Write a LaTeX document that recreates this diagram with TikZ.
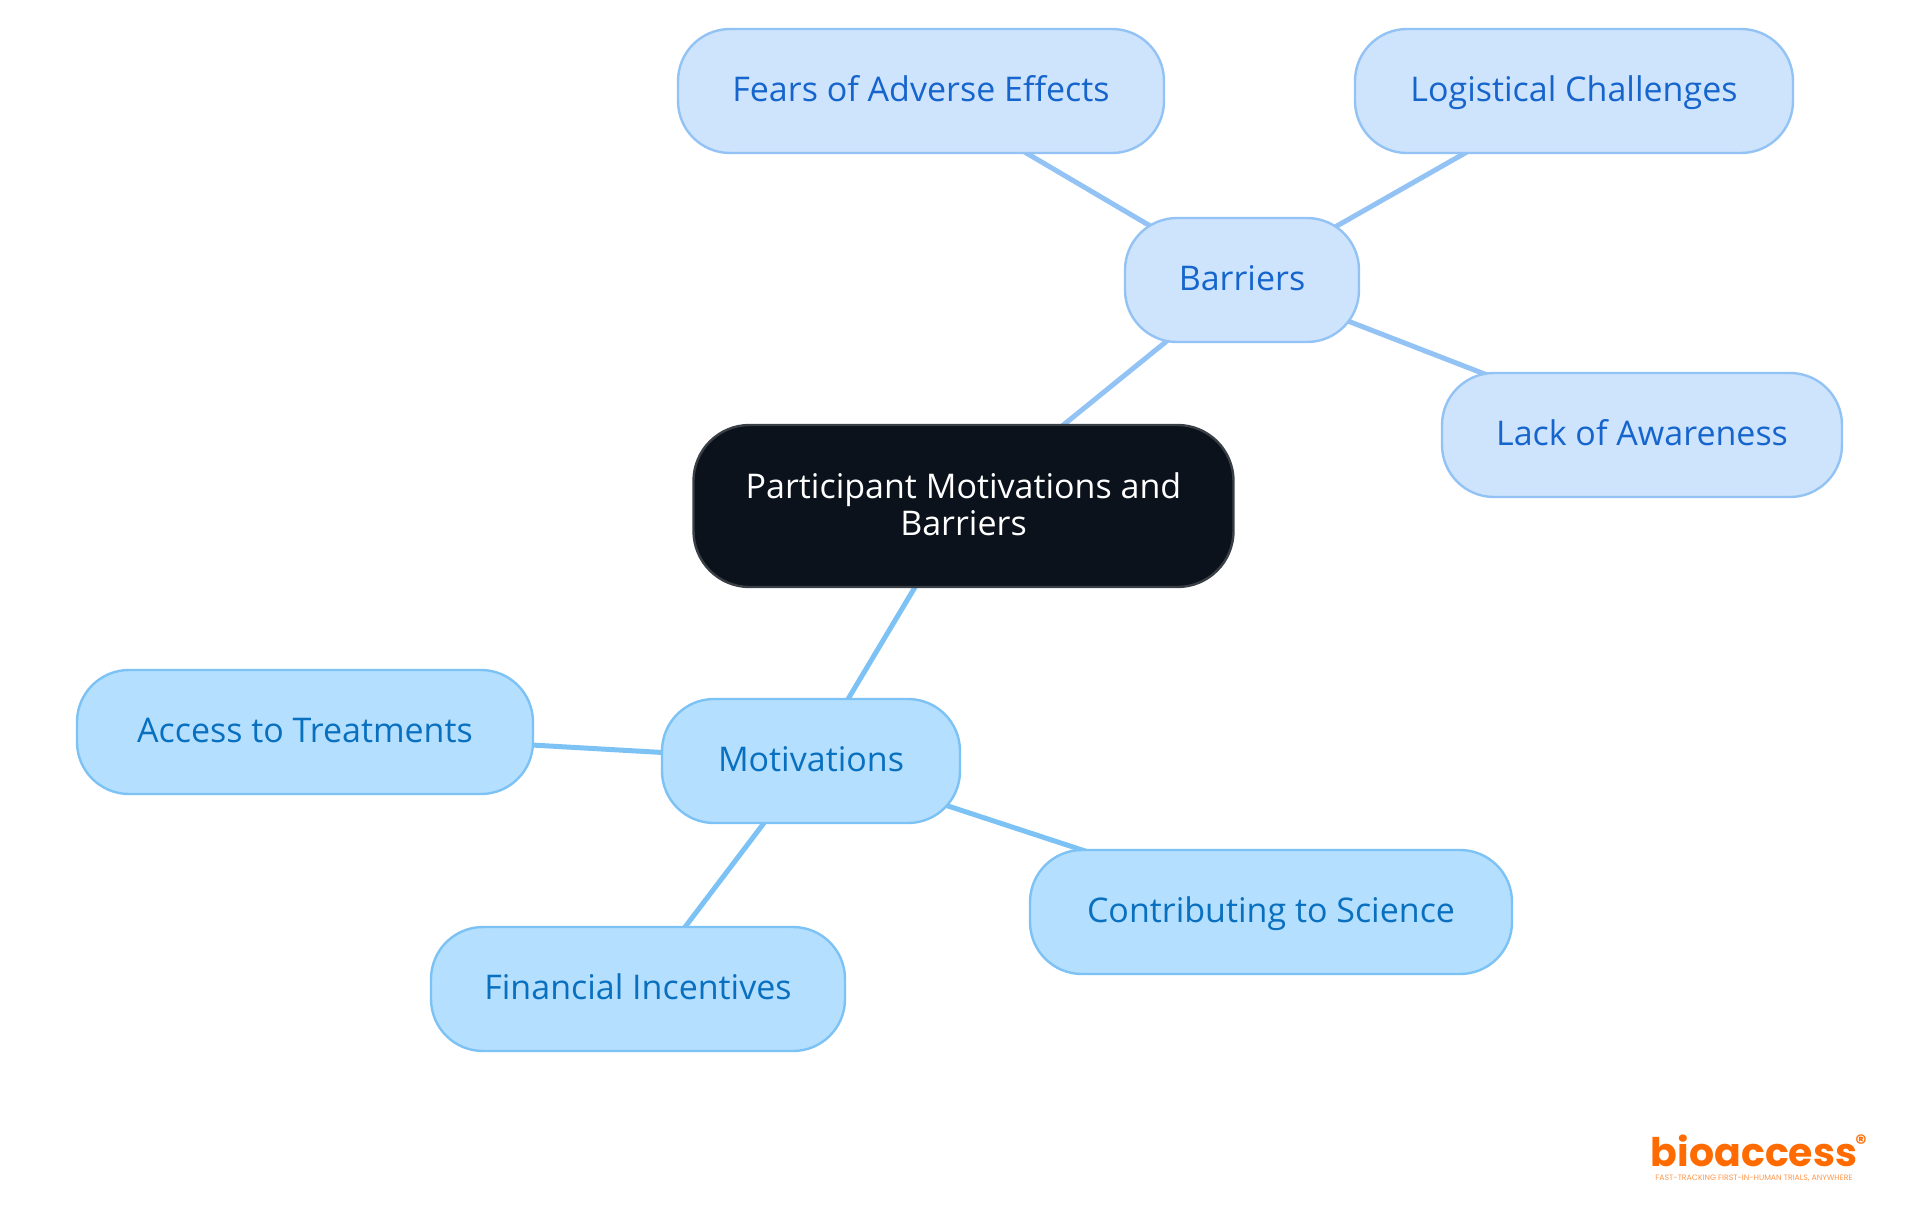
\documentclass[tikz,border=0pt]{standalone}
\usepackage{fontspec}
\setmainfont{Open Sans}
\newfontfamily\logofont{Poppins}
\usetikzlibrary{backgrounds}
\definecolor{rootfill}{HTML}{0C121B}
\definecolor{rootline}{HTML}{3A3F46}
\definecolor{barfill}{HTML}{CEE3FC}
\definecolor{barline}{HTML}{93C3F4}
\definecolor{bartext}{HTML}{1565CC}
\definecolor{motfill}{HTML}{B5DFFE}
\definecolor{motline}{HTML}{7DC2F5}
\definecolor{mottext}{HTML}{0970C0}
\definecolor{logoorange}{HTML}{FF6B00}
\tikzset{
    mapnode/.style={rounded corners=26pt, line width=1.2pt, align=center, font=\fontsize{17}{18.5}\selectfont, inner sep=0pt},
    leafnode/.style={mapnode, text height=16pt, text depth=5.5pt, minimum height=62pt},
    barnode/.style={leafnode, draw=barline, fill=barfill, text=bartext},
    motnode/.style={leafnode, draw=motline, fill=motfill, text=mottext},
    rootnode/.style={mapnode, rounded corners=28pt, text depth=1.6pt, draw=rootline, fill=rootfill, text=white},
    barlink/.style={draw=barline, line width=2.5pt},
    motlink/.style={draw=motline, line width=2.5pt}
}
\begin{document}
\begin{tikzpicture}[x=0.5pt, y=-0.5pt]
    \useasboundingbox (0, 0) rectangle (1920, 1215);

    \node[rootnode, minimum width=270pt, minimum height=81pt] (root) at (963.5, 506) {Participant Motivations and\\Barriers};

    \node[barnode, minimum width=117pt] (barriers) at (1242, 280) {Barriers};
    \node[barnode, minimum width=243pt] (fears) at (921, 91) {Fears of Adverse Effects};
    \node[barnode, minimum width=219pt] (logistical) at (1574, 91) {Logistical Challenges};
    \node[barnode, minimum width=200pt] (lack) at (1642, 435) {Lack of Awareness};

    \node[motnode, minimum width=149pt] (motivations) at (811, 761) {Motivations};
    \node[motnode, minimum width=228pt] (access) at (305, 732) {Access to Treatments};
    \node[motnode, minimum width=207pt] (financial) at (638, 989) {Financial Incentives};
    \node[motnode, minimum width=241pt] (science) at (1271, 912) {Contributing to Science};

    \node[font=\logofont\bfseries\fontsize{19.7}{20}\selectfont, text=logoorange, inner sep=0pt, text depth=0pt, anchor=base] (logo) at (1754, 1166) {bioaccess};
    \node[font=\logofont\fontsize{3.9}{4}\selectfont, text=logoorange!70, inner sep=0pt] (tagline) at (1754, 1178) {FAST-TRACKING FIRST-IN-HUMAN TRIALS, ANYWHERE};
    \node[font=\logofont\bfseries\fontsize{11}{11}\selectfont, text=logoorange, inner sep=0pt] (mark) at (1861, 1143) {®};

    \begin{scope}[on background layer]
        \draw[barlink] (root.center) -- (barriers.center);
        \draw[barlink] (barriers.center) -- (fears.center);
        \draw[barlink] (barriers.center) -- (logistical.center);
        \draw[barlink] (barriers.center) -- (lack.center);
        \draw[motlink] (root.center) -- (motivations.center);
        \draw[motlink] (motivations.center) -- (access.center);
        \draw[motlink] (motivations.center) -- (financial.center);
        \draw[motlink] (motivations.center) -- (science.center);
    \end{scope}
\end{tikzpicture}
\end{document}
